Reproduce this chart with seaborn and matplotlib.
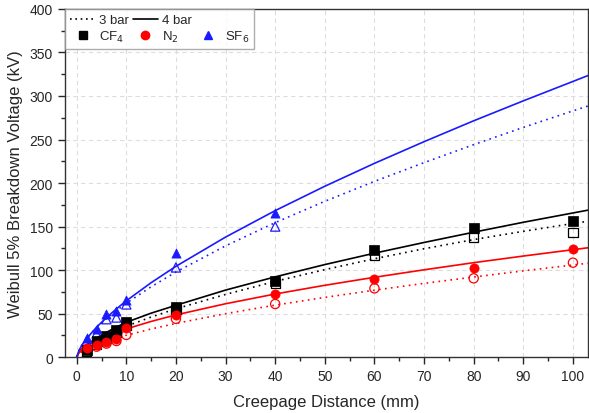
import numpy as np
import pandas as pd
import seaborn as sns
import matplotlib.pyplot as plt
from matplotlib.lines import Line2D
from matplotlib.ticker import MultipleLocator

# Measured breakdown voltages (kV) against creepage distance (mm)
dist = [2, 4, 6, 8, 10, 20, 40, 60, 80, 100]
dist_sf6 = [2, 4, 6, 8, 10, 20, 40]
cf4_4bar = [8.5, 19, 24, 31, 40.5, 57.5, 87, 123, 148, 156]
cf4_3bar = [7, 15, 21, 28, 36, 54.5, 84.5, 116.5, 137, 143]
n2_4bar = [11, 14, 17.5, 21, 34, 48.5, 73, 90, 102, 124]
n2_3bar = [9, 12, 15.5, 18.5, 25.5, 44, 61, 79, 90.5, 108.5]
sf6_4bar = [22, 32, 50, 52.5, 66, 120, 166]
sf6_3bar = [18.5, 27, 43.5, 45.5, 60.5, 103, 150]

# Fitted trend curves
fit_x = [0, 0.5, 1, 2, 4, 6, 8, 10, 15, 20, 30, 40, 50, 60, 70, 80, 90, 100, 103]
fit_sf6_4bar = [0, 8.2, 13.2, 21.3, 34.4, 45.4, 55.4, 64.7, 85.5, 104.3, 137.9,
                168.3, 196.3, 222.6, 247.5, 271.5, 294.4, 316.7, 323.4]
fit_sf6_3bar = [0, 8.6, 13.5, 21.4, 33.9, 44.1, 53.3, 61.9, 80.8, 97.8, 127.8,
                154.5, 179, 201.9, 223.4, 244.1, 263.9, 282.9, 288.4]
fit_cf4_4bar = [0, 5.8, 9.2, 14, 22, 28.5, 34.5, 40, 50.5, 59.5, 77, 92.2,
                106.3, 119.4, 131.7, 143.5, 154.9, 165.6, 168.8]
fit_cf4_3bar = [0, 5, 8, 12.5, 19.5, 25.5, 30.5, 35.5, 46, 55.5, 72, 87,
                100.5, 113, 124.5, 135, 144.5, 153.5, 156]
fit_n2_4bar = [0, 5.7, 8.5, 12.7, 19, 24.1, 28.5, 32.4, 41, 48.5, 61.3, 72.5,
               82.5, 91.7, 100.3, 108.5, 116.1, 123.4, 125.6]
fit_n2_3bar = [0, 3.9, 6, 9.2, 14.1, 18.2, 21.8, 25.1, 32.3, 38.7, 49.9, 59.7,
               68.6, 76.9, 84.7, 92, 99.1, 105.8, 107.8]

colors = {"CF4": "black", "N2": "#ff0000", "SF6": "#1a1aff"}
markers = {"CF4": "s", "N2": "o", "SF6": "^"}

fits = pd.concat([
    pd.DataFrame({"x": fit_x, "y": ys, "gas": g, "pressure": p})
    for g, p, ys in [
        ("CF4", "3 bar", fit_cf4_3bar), ("CF4", "4 bar", fit_cf4_4bar),
        ("N2", "3 bar", fit_n2_3bar), ("N2", "4 bar", fit_n2_4bar),
        ("SF6", "3 bar", fit_sf6_3bar), ("SF6", "4 bar", fit_sf6_4bar),
    ]
])

points = [
    ("CF4", dist, cf4_3bar, cf4_4bar),
    ("N2", dist, n2_3bar, n2_4bar),
    ("SF6", dist_sf6, sf6_3bar, sf6_4bar),
]

sns.set_style("ticks")
plt.rcParams["font.family"] = ["Liberation Sans", "DejaVu Sans"]

fig = plt.figure(figsize=(5.89, 4.14), dpi=100)
ax = fig.add_axes([0.110, 0.135, 0.888, 0.841])

sns.lineplot(data=fits, x="x", y="y", hue="gas", style="pressure",
             palette=colors, dashes={"3 bar": (1, 2.6), "4 bar": ""},
             linewidth=1.2, legend=False, sort=False, ax=ax)

for gas, xs, y3, y4 in points:
    c = colors[gas]
    sns.scatterplot(x=xs, y=y3, marker=markers[gas], s=44, facecolor="none",
                    edgecolor=c, linewidth=0.9, ax=ax, zorder=3)
    sns.scatterplot(x=xs, y=y4, marker=markers[gas], s=44, color=c,
                    edgecolor=c, linewidth=0.5, ax=ax, zorder=4)

ax.set_xlim(-2.4, 103)
ax.set_ylim(0, 400)
ax.xaxis.set_major_locator(MultipleLocator(10))
ax.xaxis.set_minor_locator(MultipleLocator(5))
ax.yaxis.set_major_locator(MultipleLocator(50))
ax.yaxis.set_minor_locator(MultipleLocator(25))
ax.tick_params(which="major", length=5, width=1, labelsize=10, direction="out")
ax.tick_params(which="minor", length=3, width=1, direction="out")
ax.grid(True, which="major", linestyle=(0, (4, 3)), color="#dddddd", linewidth=0.8)
ax.set_axisbelow(True)
for sp in ax.spines.values():
    sp.set_linewidth(1.0)
    sp.set_color("#333333")

ax.set_xlabel("Creepage Distance (mm)", fontsize=12, labelpad=8)
ax.set_ylabel("Weibull 5% Breakdown Voltage (kV)", fontsize=12, labelpad=5)

# Legend: line styles on the first row, gases on the second
blank = Line2D([], [], linestyle="none")
handles = [
    Line2D([], [], color="black", linestyle=(0, (1, 2.2)), linewidth=1.2),
    Line2D([], [], marker="s", color="black", linestyle="none", markersize=6),
    Line2D([], [], color="black", linewidth=1.2),
    Line2D([], [], marker="o", color=colors["N2"], linestyle="none", markersize=6),
    blank,
    Line2D([], [], marker="^", color=colors["SF6"], linestyle="none", markersize=6),
]
labels = ["3 bar", r"CF$_4$", "4 bar", r"N$_2$", "", r"SF$_6$"]
leg = ax.legend(handles, labels, ncol=3, loc="upper left", fontsize=9.5,
                frameon=True, fancybox=False, edgecolor="#999999",
                borderaxespad=0.0, handlelength=1.9, handletextpad=0.3,
                columnspacing=0.3, labelspacing=0.2, borderpad=0.4)
leg.get_frame().set_linewidth(1.0)

fig.savefig("out.png", dpi=100)
